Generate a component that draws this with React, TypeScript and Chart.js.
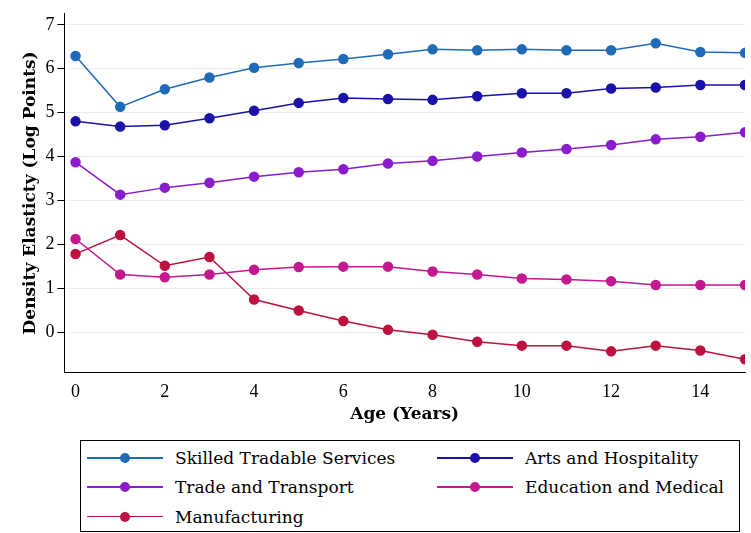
import { useEffect, useRef } from 'react'
import Chart from 'chart.js/auto'

const AGES = [0, 1, 2, 3, 4, 5, 6, 7, 8, 9, 10, 11, 12, 13, 14, 15]
const SKILLED = [6.29, 5.13, 5.53, 5.8, 6.02, 6.13, 6.22, 6.33, 6.44, 6.42, 6.44, 6.42, 6.42, 6.58, 6.38, 6.36]
const ARTS = [4.8, 4.68, 4.71, 4.87, 5.04, 5.22, 5.33, 5.31, 5.29, 5.37, 5.44, 5.44, 5.55, 5.57, 5.63, 5.63]
const TRADE = [3.87, 3.13, 3.29, 3.4, 3.54, 3.64, 3.71, 3.84, 3.9, 4.0, 4.09, 4.17, 4.26, 4.39, 4.45, 4.55]
const EDU = [2.12, 1.31, 1.25, 1.31, 1.42, 1.48, 1.49, 1.49, 1.38, 1.31, 1.22, 1.2, 1.16, 1.07, 1.07, 1.07]
const MANUF = [1.78, 2.21, 1.51, 1.71, 0.74, 0.49, 0.25, 0.05, -0.06, -0.22, -0.31, -0.31, -0.44, -0.31, -0.42, -0.62]

const SERIES = [
  { label: 'Skilled Tradable Services', data: SKILLED, color: '#1f6bb8' },
  { label: 'Arts and Hospitality', data: ARTS, color: '#1a12a8' },
  { label: 'Trade and Transport', data: TRADE, color: '#8a1ccc' },
  { label: 'Education and Medical', data: EDU, color: '#c3188f' },
  { label: 'Manufacturing', data: MANUF, color: '#bd1240' },
]

const FONT = '"DejaVu Serif", serif'
const TICK_FONT = '"Liberation Serif", serif'

export default function App() {
  const canvasRef = useRef<HTMLCanvasElement>(null)

  useEffect(() => {
    document.body.style.margin = '0'
    if (!canvasRef.current) return
    const chart = new Chart(canvasRef.current, {
      type: 'line',
      data: {
        datasets: SERIES.map(s => ({
          label: s.label,
          data: s.data.map((v, i) => ({ x: AGES[i], y: v })),
          borderColor: s.color, backgroundColor: s.color,
          borderWidth: 1.5, pointRadius: 4.5, pointHoverRadius: 4.5, tension: 0,
        })),
      },
      options: {
        animation: false, responsive: true, maintainAspectRatio: false,
        layout: { padding: { top: 5, right: 2, left: 18 } },
        plugins: { legend: { display: false }, tooltip: { enabled: false } },
        scales: {
          x: {
            type: 'linear', min: -0.25, max: 15,
            grid: { display: false, drawTicks: true, tickLength: 7 }, border: { color: '#000' },
            ticks: { stepSize: 2, color: '#000', font: { family: TICK_FONT, size: 18 }, padding: 2 },
            afterBuildTicks: (ax: any) => { ax.ticks = [0, 2, 4, 6, 8, 10, 12, 14].map(v => ({ value: v })) },
            title: { display: true, text: 'Age (Years)', color: '#000', font: { family: FONT, size: 17, weight: 'bold' }, padding: { top: 0, bottom: 0 } },
          },
          y: {
            min: -0.91, max: 7.25,
            grid: { color: '#e8eef2', drawTicks: true, tickColor: '#000', tickLength: 7 }, border: { color: '#000' },
            ticks: { stepSize: 1, color: '#000', font: { family: TICK_FONT, size: 18 }, padding: 3 },
            afterBuildTicks: (ax: any) => { ax.ticks = [0, 1, 2, 3, 4, 5, 6, 7].map(v => ({ value: v })) },
            title: { display: true, text: 'Density Elasticty (Log Points)', color: '#000', font: { family: FONT, size: 17, weight: 'bold' }, padding: 2 },
          },
        },
      },
    })
    return () => chart.destroy()
  }, [])

  return (
    <div style={{ width: 751, height: 533, fontFamily: FONT, background: '#fff' }}>
      <div style={{ height: 425, position: 'relative' }}>
        <canvas ref={canvasRef} />
      </div>
      <div style={{ position: 'absolute', left: 80, top: 440, width: 660, height: 92, border: '1px solid #000',
        boxSizing: 'border-box', display: 'grid', gridTemplateColumns: '350px 300px', padding: '6px 0 0 6px', rowGap: 4 }}>
        {SERIES.map(s => (
          <div key={s.label} style={{ display: 'flex', alignItems: 'center', height: 22 }}>
            <div style={{ position: 'relative', width: 76, height: 10, marginRight: 12 }}>
              <div style={{ position: 'absolute', top: 4, left: 0, width: 76, height: 1.5, background: s.color }} />
              <div style={{ position: 'absolute', top: 0, left: 33, width: 10, height: 10, borderRadius: '50%', background: s.color }} />
            </div>
            <span style={{ fontSize: 17 }}>{s.label}</span>
          </div>
        ))}
      </div>
    </div>
  )
}
